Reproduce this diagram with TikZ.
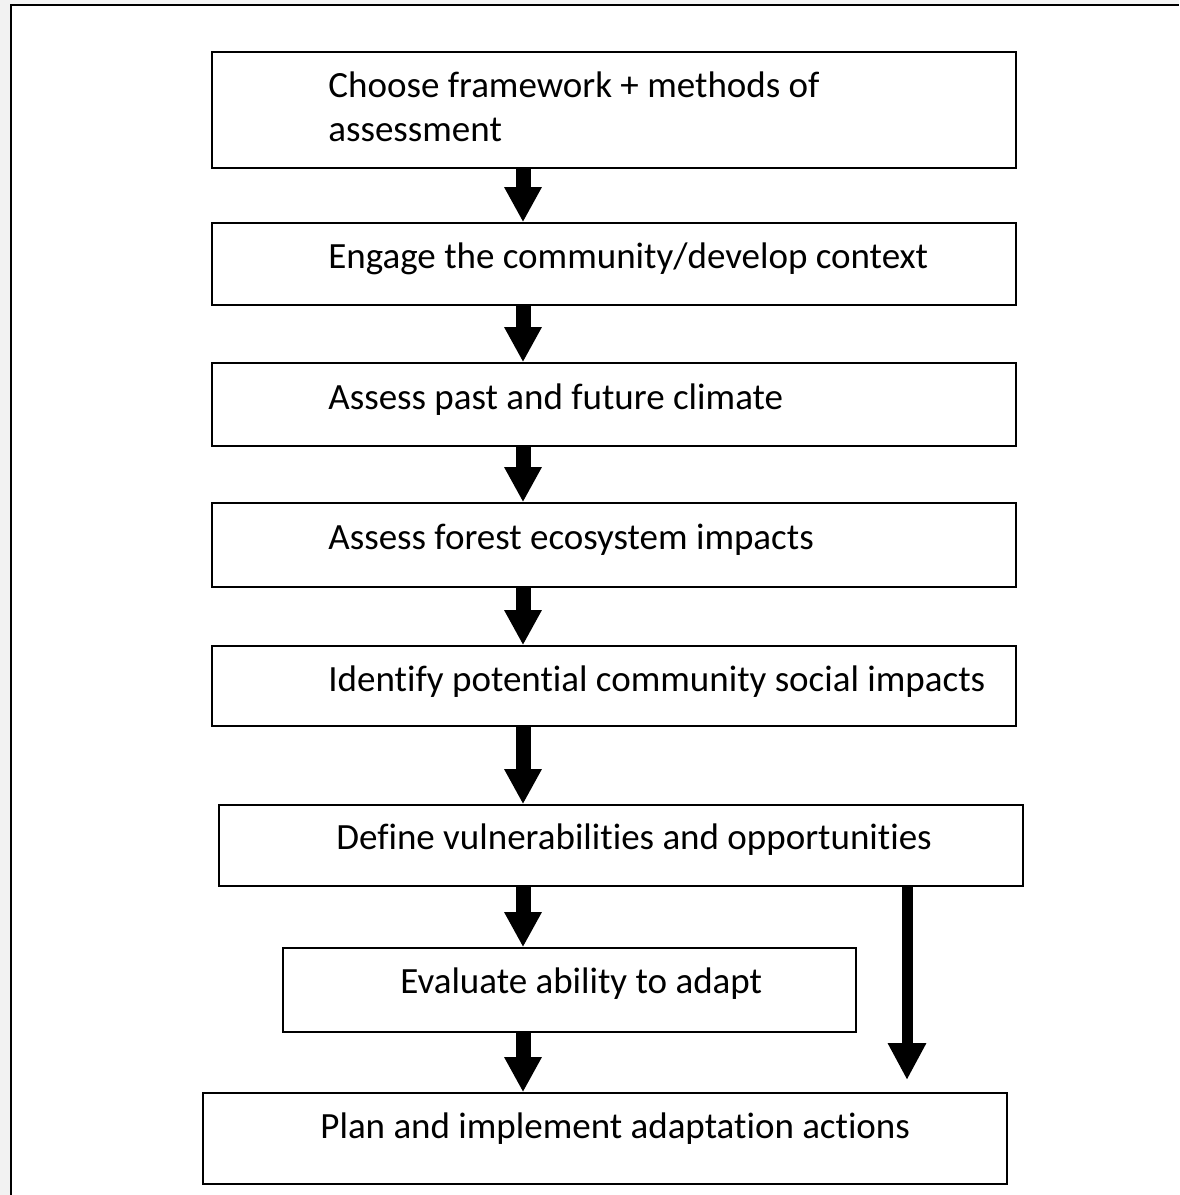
\documentclass[tikz,border=0pt]{standalone}
\usepackage{fontspec}
\setmainfont{Carlito}[Ligatures=NoCommon]
\usetikzlibrary{arrows.meta}

\tikzset{
  stepbox/.style={draw, line width=0.8pt, rectangle, inner sep=0pt, minimum width=402pt},
  steptext/.style={anchor=base west, inner sep=0pt, align=left,
    font=\fontsize{18.5pt}{22pt}\selectfont},
  bigarrow/.style={line width=7.5pt, -{Triangle[width=17.5pt,length=17.5pt]}},
  sidearrow/.style={line width=5.5pt, -{Triangle[width=18pt,length=18.5pt]}}
}

\begin{document}
\begin{tikzpicture}[x=0.5pt, y=-0.5pt]
  \useasboundingbox (0,0) rectangle (1179,1195);
  % page edge
  \fill[gray!10] (0,0) rectangle (10,1195);
  \fill[gray!8] (10,0) rectangle (1179,4);
  \draw[line width=1.1pt] (11,1195) -- (11,5) -- (1179,5);
  % boxes
  \node[stepbox, minimum height=58pt]   (choose)   at (614,110)    {};
  \node[stepbox, minimum height=41pt]   (engage)   at (614,264)    {};
  \node[stepbox, minimum height=41.5pt] (climate)  at (614,404.5)  {};
  \node[stepbox, minimum height=42pt]   (forest)   at (614,545)    {};
  \node[stepbox, minimum height=40pt]   (social)   at (614,686)    {};
  \node[stepbox, minimum height=40.5pt] (vulner)   at (621,845.5)  {};
  \node[stepbox, minimum height=42pt, minimum width=286.5pt] (adapt) at (569.5,990) {};
  \node[stepbox, minimum height=45.5pt] (plan)     at (605,1138.5) {};
  % labels (base = last line)
  \node[steptext] (choosetext)  at (328,141)  {Choose framework + methods of\\assessment};
  \node[steptext] (engagetext)  at (328,268)  {Engage the community/develop context};
  \node[steptext] (climatetext) at (328,409)  {Assess past and future climate};
  \node[steptext] (foresttext)  at (328,549)  {Assess forest ecosystem impacts};
  \node[steptext] (socialtext)  at (328,691)  {Identify potential community social impacts};
  \node[steptext] (vulnertext)  at (336,849)  {Define vulnerabilities and opportunities};
  \node[steptext] (adapttext)   at (400,993)  {Evaluate ability to adapt};
  \node[steptext] (plantext)    at (320,1138) {Plan and implement adaptation actions};
  % arrows
  \coordinate (spine) at (523,0);
  \coordinate (side) at (907,0);
  \coordinate (sideend) at (907,1080);
  \draw[bigarrow] (choose.south -| spine)  -- (engage.north -| spine);
  \draw[bigarrow] (engage.south -| spine)  -- (climate.north -| spine);
  \draw[bigarrow] (climate.south -| spine) -- (forest.north -| spine);
  \draw[bigarrow] (forest.south -| spine)  -- (social.north -| spine);
  \draw[bigarrow] (social.south -| spine)  -- (vulner.north -| spine);
  \draw[bigarrow] (vulner.south -| spine)  -- (adapt.north -| spine);
  \draw[bigarrow] (adapt.south -| spine)   -- (plan.north -| spine);
  \draw[sidearrow] (vulner.south -| side)  -- (sideend);
\end{tikzpicture}
\end{document}
